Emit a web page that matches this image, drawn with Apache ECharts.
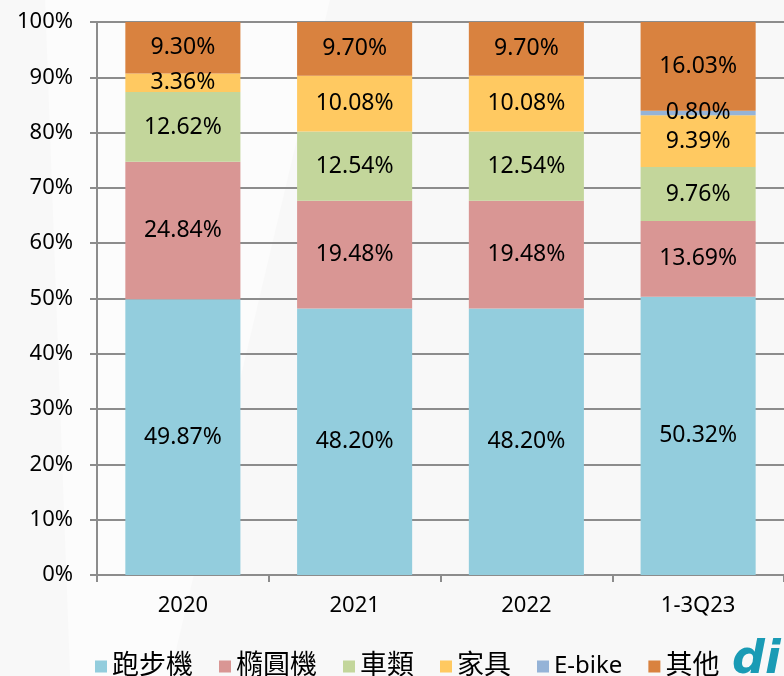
<!DOCTYPE html>
<html>
<head>
<meta charset="utf-8">
<script src="https://cdn.jsdelivr.net/npm/echarts@6/dist/echarts.min.js"></script>
<style>
  html, body { margin: 0; padding: 0; background: #f8f8f8; }
</style>
</head>
<body>
<div id="chart" style="width: 784px;height: 676px"></div>
<script>
  // 類別與各產品比重(%)
  var categories = ['2020', '2021', '2022', '1-3Q23'];
  var treadmill = [49.87, 48.20, 48.20, 50.32];   // 跑步機
  var elliptical = [24.84, 19.48, 19.48, 13.69];  // 橢圓機
  var bikes = [12.62, 12.54, 12.54, 9.76];        // 車類
  var furniture = [3.36, 10.08, 10.08, 9.39];     // 家具
  var ebike = [null, null, null, 0.80];           // E-bike
  var others = [9.30, 9.70, 9.70, 16.03];         // 其他
  var yTicks = [0, 10, 20, 30, 40, 50, 60, 70, 80, 90, 100];

  var font = '"Noto Sans", "Noto Sans CJK TC", sans-serif';

  function makeSeries(name, data, color) {
    return {
      name: name,
      type: 'bar',
      stack: 'total',
      data: data,
      barCategoryGap: '33%',
      itemStyle: { color: color },
      label: {
        show: true,
        position: 'inside',
        color: '#000',
        fontSize: 23,
        fontFamily: font,
        formatter: function (p) {
          return p.value == null ? '' : p.value.toFixed(2) + '%';
        }
      }
    };
  }

  var chart = echarts.init(document.getElementById('chart'));
  var option = {
    backgroundColor: '#f8f8f8',
    animation: false,
    graphic: [
      {
        type: 'polygon',
        z: -10,
        shape: { points: [[45, 0], [330, 0], [170, 676], [70, 676]] },
        style: { fill: '#ffffff', opacity: 0.5 }
      },
      {
        type: 'text',
        left: 732,
        top: 638,
        style: { text: 'di', fill: '#1a9bb5', font: 'italic bold 46px "DejaVu Sans"' }
      }
    ],
    grid: { left: 97, top: 22, width: 690, height: 553 },
    legend: {
      top: 648,
      left: 90,
      itemWidth: 12,
      itemHeight: 12,
      itemGap: 26,
      icon: 'rect',
      textStyle: {
        fontFamily: font,
        color: '#000',
        rich: {
          c: { fontSize: 27, fontFamily: font, color: '#000' },
          l: { fontSize: 24, fontFamily: font, color: '#000' }
        }
      },
      formatter: function (name) {
        return name === 'E-bike' ? '{l|' + name + '}' : '{c|' + name + '}';
      },
      data: ['跑步機', '橢圓機', '車類', '家具', 'E-bike', '其他']
    },
    xAxis: {
      type: 'category',
      data: categories,
      axisLine: { lineStyle: { color: '#8c8c8c', width: 2 } },
      axisTick: { show: true, length: 7, alignWithLabel: false, lineStyle: { color: '#8c8c8c', width: 2 } },
      axisLabel: { fontSize: 22, fontFamily: font, color: '#000', margin: 20 }
    },
    yAxis: {
      type: 'value',
      min: yTicks[0],
      max: yTicks[yTicks.length - 1],
      interval: 10,
      axisLine: { show: true, lineStyle: { color: '#8c8c8c', width: 2 } },
      axisTick: { show: true, length: 7, lineStyle: { color: '#8c8c8c', width: 2 } },
      splitLine: { lineStyle: { color: '#8c8c8c', width: 2 } },
      axisLabel: {
        fontSize: 22, fontFamily: font, color: '#000', margin: 24,
        formatter: '{value}%'
      }
    },
    series: [
      makeSeries('跑步機', treadmill, '#93cddd'),
      makeSeries('橢圓機', elliptical, '#d99694'),
      makeSeries('車類', bikes, '#c3d69b'),
      makeSeries('家具', furniture, '#ffc961'),
      makeSeries('E-bike', ebike, '#95b3d7'),
      makeSeries('其他', others, '#d9823f')
    ]
  };
  chart.setOption(option, true);
</script>
</body>
</html>
